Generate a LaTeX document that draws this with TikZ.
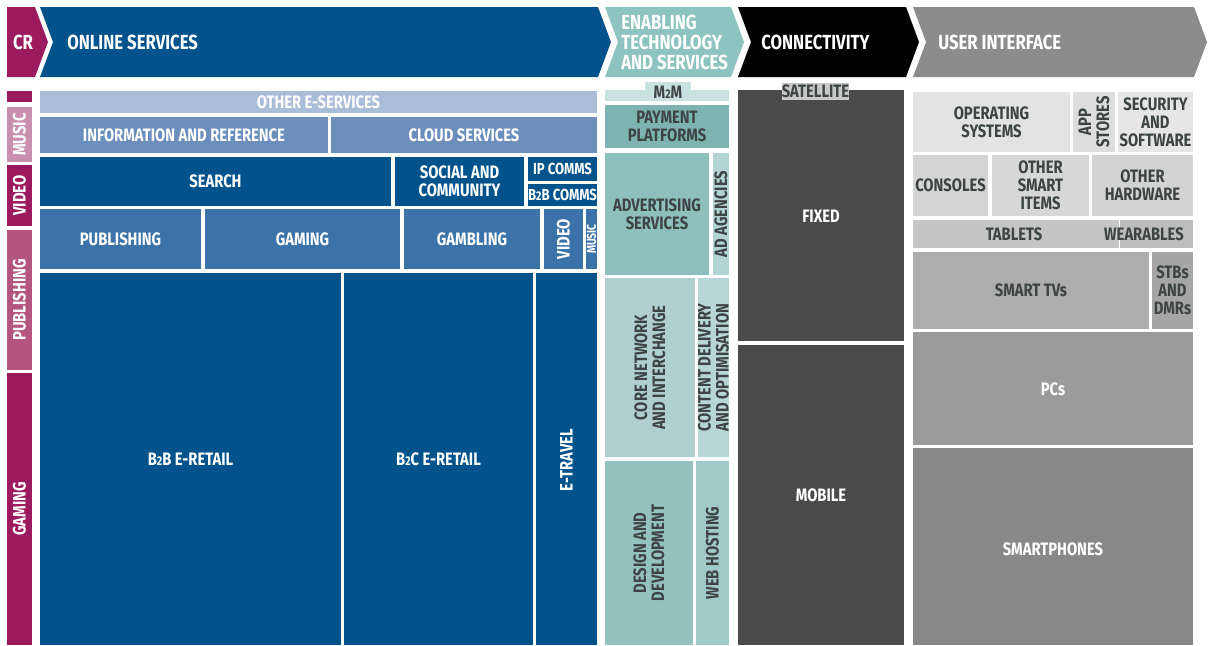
\documentclass[tikz,border=0pt]{standalone}
\usepackage{fontspec}
\setmainfont{Fira Sans}[FakeStretch=0.82]
\usepackage{tikz}

\definecolor{crmag}{HTML}{9B1B5E}
\definecolor{musicpink}{HTML}{C98FB0}
\definecolor{pubpink}{HTML}{B4557F}
\definecolor{osblue}{HTML}{02528C}
\definecolor{oslight}{HTML}{A9BCD8}
\definecolor{osmid}{HTML}{6C8EBD}
\definecolor{osrow}{HTML}{3B73A9}
\definecolor{ethead}{HTML}{8DC3C0}
\definecolor{etm2m}{HTML}{C9E2E0}
\definecolor{etpay}{HTML}{7DB4B2}
\definecolor{etadv}{HTML}{8DBFBC}
\definecolor{etagency}{HTML}{B2D4D2}
\definecolor{etcore}{HTML}{AFD0CF}
\definecolor{etcdn}{HTML}{B7D7D5}
\definecolor{etdesign}{HTML}{93C2BF}
\definecolor{etweb}{HTML}{A0CAC7}
\definecolor{cogray}{HTML}{4A4A4A}
\definecolor{cosat}{HTML}{C9C9C9}
\definecolor{uihead}{HTML}{8C8C8C}
\definecolor{uios}{HTML}{E3E3E3}
\definecolor{uiapp}{HTML}{DEDEDE}
\definecolor{uisec}{HTML}{E6E6E6}
\definecolor{uicons}{HTML}{D4D4D4}
\definecolor{uismart}{HTML}{D7D7D7}
\definecolor{uihw}{HTML}{D3D3D3}
\definecolor{uitab}{HTML}{C5C5C5}
\definecolor{uiwear}{HTML}{BDBDBD}
\definecolor{uitv}{HTML}{ADADAD}
\definecolor{uistb}{HTML}{A6A6A6}
\definecolor{uipc}{HTML}{9B9B9B}
\definecolor{uiphone}{HTML}{888888}
\definecolor{txtdark}{HTML}{3E4444}

\newcommand\lbfont{\bfseries\fontsize{13.5}{13.5}\selectfont}
\newcommand\hdfont{\bfseries\fontsize{15.3}{15}\selectfont}
\newcommand\sm[1]{{\fontsize{9.5}{9}\selectfont #1}}

\begin{document}
\begin{tikzpicture}[x=0.75pt,y=-0.75pt,
    lbl/.style={font=\lbfont,align=center,inner sep=0pt},
    wtxt/.style={lbl,text=white},
    dtxt/.style={lbl,text=txtdark},
    hdr/.style={font=\hdfont,align=left,inner sep=0pt,text=white,anchor=west}]
\useasboundingbox (0,0) rectangle (1211,646);

% header chevrons
\fill[crmag] (7,7) -- (35,7) -- (48,42) -- (35,77) -- (7,77) -- cycle;
\foreach \l/\r/\c in {40/598/osblue,605/731/ethead,738/906/black,913/1194/uihead}
{   \fill[\c] (\l,7) -- (\r,7) -- ({\r+13},42) -- (\r,77) -- (\l,77) -- ({\l+13},42) -- cycle;
}
\node[wtxt,font=\hdfont] (cr) at (23,42) {CR};
\node[hdr] (online) at (67,42) {ONLINE SERVICES};
\node[hdr] (enabling) at (621,42) {ENABLING\\TECHNOLOGY\\AND SERVICES};
\node[hdr] (connect) at (761,42) {CONNECTIVITY};
\node[hdr] (userif) at (938,42) {USER INTERFACE};

% content range column
\fill[crmag] (7,91) rectangle (32,102);
\foreach \ya/\yb/\c/\n/\t in {107/162/musicpink/crmusic/MUSIC,165/226/crmag/crvideo/VIDEO,
    230/370/pubpink/crpub/PUBLISHING,373/645/crmag/crgaming/GAMING}
{   \fill[\c] (7,\ya) rectangle (32,\yb);
    \node[wtxt,rotate=90] (\n) at (19.5,{(\ya+\yb)/2}) {\t};
}

% online services
\foreach \xa/\ya/\xb/\yb/\c/\n/\t in {
    40/91/597/113/oslight/oeserv/OTHER E-SERVICES,
    40/117/328/153/osmid/inforef/INFORMATION AND REFERENCE,
    331/117/597/153/osmid/cloud/CLOUD SERVICES,
    40/157/391/206/osblue/search/SEARCH,
    395/157/524/206/osblue/social/{SOCIAL AND\\COMMUNITY},
    40/209/201/269/osrow/publishing/PUBLISHING,
    205/209/400/269/osrow/gaming/GAMING,
    404/209/540/269/osrow/gambling/GAMBLING,
    40/273/341/645/osblue/btob/B\sm{2}B E-RETAIL,
    344/273/533/645/osblue/btoc/B\sm{2}C E-RETAIL}
{   \fill[\c] (\xa,\ya) rectangle (\xb,\yb);
    \node[wtxt] (\n) at ({(\xa+\xb)/2},{(\ya+\yb)/2}) {\t};
}
\fill[osblue] (528,157) rectangle (597,181);
\fill[osblue] (528,184) rectangle (597,206);
\node[wtxt,font=\bfseries\fontsize{12}{12}\selectfont] (ipcomms) at (562.5,169) {IP COMMS};
\node[wtxt,font=\bfseries\fontsize{12}{12}\selectfont] (btobcomms) at (562.5,195) {B\sm{2}B COMMS};
\fill[osrow] (544,209) rectangle (583,269);
\fill[osrow] (586,209) rectangle (597,269);
\fill[osblue] (536,273) rectangle (597,645);
\node[wtxt,rotate=90] (osvideo) at (563.5,239) {VIDEO};
\node[wtxt,rotate=90,font=\bfseries\fontsize{9.5}{9}\selectfont] (osmusic) at (591.5,239) {MUSIC};
\node[wtxt,rotate=90] (etravel) at (566.5,460) {E-TRAVEL};

% enabling technology and services
\fill[etm2m] (645,82) rectangle (691,101);
\fill[etm2m] (605,90) rectangle (729,101);
\node[dtxt] (m2m) at (668,92.5) {M\sm{2}M};
\foreach \xa/\ya/\xb/\yb/\c/\n/\t in {
    605/105/729/148/etpay/payment/{PAYMENT\\PLATFORMS},
    605/153/709/275/etadv/advert/{ADVERTISING\\SERVICES}}
{   \fill[\c] (\xa,\ya) rectangle (\xb,\yb);
    \node[dtxt] (\n) at ({(\xa+\xb)/2},{(\ya+\yb)/2}) {\t};
}
\foreach \xa/\ya/\xb/\yb/\c/\n/\t in {
    713/153/729/275/etagency/agencies/AD AGENCIES,
    605/278/695/457/etcore/corenet/{CORE NETWORK\\AND INTERCHANGE},
    698/278/729/457/etcdn/cdn/{CONTENT DELIVERY\\AND OPTIMISATION},
    605/461/693/645/etdesign/design/{DESIGN AND\\DEVELOPMENT},
    696/461/729/645/etweb/webhost/WEB HOSTING}
{   \fill[\c] (\xa,\ya) rectangle (\xb,\yb);
    \node[dtxt,rotate=90] (\n) at ({(\xa+\xb)/2},{(\ya+\yb)/2}) {\t};
}

% connectivity
\fill[cogray] (738,90) rectangle (904,341);
\fill[cogray] (738,345) rectangle (904,645);
\node[wtxt] (fixed) at (821,216) {FIXED};
\node[wtxt] (mobile) at (821,495) {MOBILE};
\fill[cosat] (782,83) rectangle (849,100);
\node[dtxt] (satellite) at (815.5,91.5) {SATELLITE};

% user interface
\foreach \xa/\ya/\xb/\yb/\c/\n/\t in {
    913/92/1070/152/uios/opsys/{OPERATING\\SYSTEMS},
    1118/92/1193/152/uisec/security/{SECURITY\\AND\\SOFTWARE},
    913/155/988/216/uicons/consoles/CONSOLES,
    992/155/1089/216/uismart/othersmart/{OTHER\\SMART\\ITEMS},
    1092/155/1193/216/uihw/otherhw/{OTHER\\HARDWARE},
    913/252/1149/329/uitv/smarttv/SMART TVs,
    1152/252/1193/329/uistb/stbs/{STBs\\AND\\DMRs}}
{   \fill[\c] (\xa,\ya) rectangle (\xb,\yb);
    \node[dtxt] (\n) at ({(\xa+\xb)/2},{(\ya+\yb)/2}) {\t};
}
\fill[uiapp] (1073,92) rectangle (1115,152);
\node[dtxt,rotate=90] (appstores) at (1094,122) {APP\\STORES};
\fill[uitab] (913,220) rectangle (1119,248);
\fill[uiwear] (1120,220) rectangle (1193,248);
\node[dtxt] (tablets) at (1014,234) {TABLETS};
\node[dtxt] (wearables) at (1144,234) {WEARABLES};
\fill[uipc] (913,332) rectangle (1193,445);
\fill[uiphone] (913,448) rectangle (1193,645);
\node[wtxt] (pcs) at (1053,389) {PCs};
\node[wtxt] (smartphones) at (1053,549) {SMARTPHONES};
\end{tikzpicture}
\end{document}
